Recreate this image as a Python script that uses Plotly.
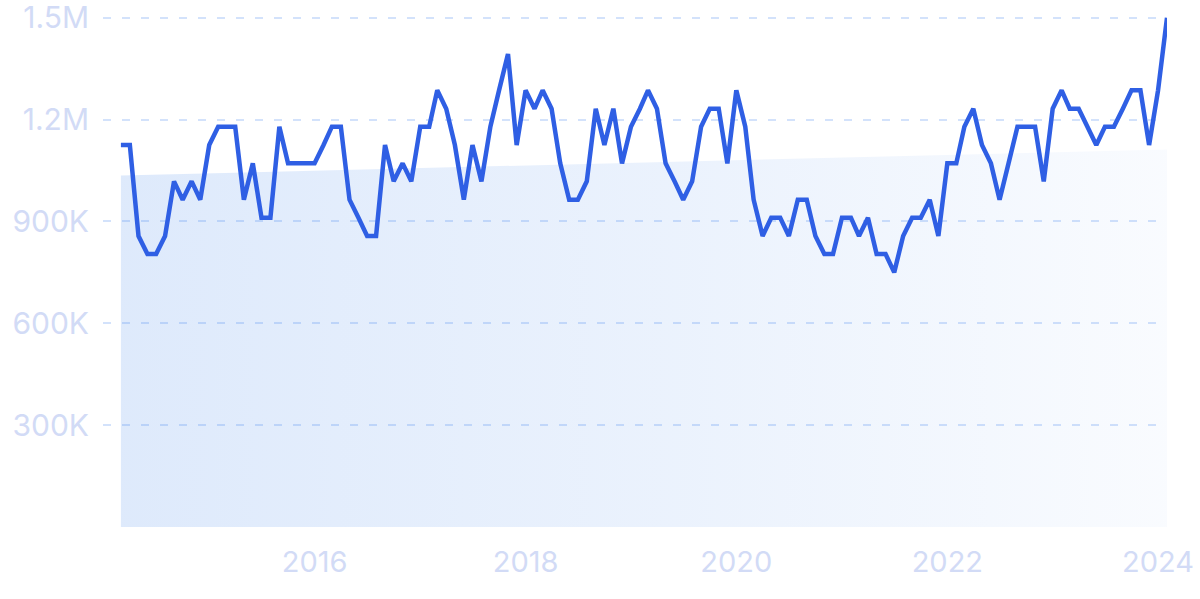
import pandas as pd
import plotly.graph_objects as go

# monthly values (thousands), Mar 2014 .. Feb 2024
MONTHS = pd.date_range("2014-03-01", periods=120, freq="MS")
VALUES_K = [
    1125, 1125, 857, 804, 804, 857, 1018, 964, 1018, 964,
    1125, 1179, 1179, 1179, 964, 1071, 911, 911, 1179, 1071,
    1071, 1071, 1071, 1125, 1179, 1179, 964, 911, 857, 857,
    1125, 1018, 1071, 1018, 1179, 1179, 1286, 1232, 1125, 964,
    1125, 1018, 1179, 1286, 1393, 1125, 1286, 1232, 1286, 1232,
    1071, 964, 964, 1018, 1232, 1125, 1232, 1071, 1179, 1232,
    1286, 1232, 1071, 1018, 964, 1018, 1179, 1232, 1232, 1071,
    1286, 1179, 964, 857, 911, 911, 857, 964, 964, 857,
    804, 804, 911, 911, 857, 911, 804, 804, 750, 857,
    911, 911, 964, 857, 1071, 1071, 1179, 1232, 1125, 1071,
    964, 1071, 1179, 1179, 1179, 1018, 1232, 1286, 1232, 1232,
    1179, 1125, 1179, 1179, 1232, 1286, 1286, 1125, 1286, 1500,
]
TREND_K = [1035, 1112]

Y_TICKS = [300000, 600000, 900000, 1200000, 1500000]
Y_TICK_LABELS = ["300K", "600K", "900K", "1.2M", "1.5M"]
X_TICKS = ["2016-01-01", "2018-01-01", "2020-01-01", "2022-01-01", "2024-01-01"]
X_TICK_LABELS = ["2016", "2018", "2020", "2022", "2024"]

LINE_COLOR = "#2f5fe4"
LABEL_COLOR = "#d2dbf6"
GRID_COLOR = "#d3e2fb"

values = [v * 1000 for v in VALUES_K]
trend = [v * 1000 for v in TREND_K]

fig = go.Figure()

# shaded trend area under the series (translucent so the grid shows through)
fig.add_trace(
    go.Scatter(
        x=[MONTHS[0], MONTHS[-1]],
        y=trend,
        mode="lines",
        line=dict(width=0),
        fill="tozeroy",
        fillgradient=dict(
            type="horizontal",
            colorscale=[
                [0, "rgba(60,130,235,0.17)"],
                [0.55, "rgba(60,130,235,0.10)"],
                [1, "rgba(60,130,235,0.03)"],
            ],
        ),
        hoverinfo="skip",
        showlegend=False,
    )
)

fig.add_trace(
    go.Scatter(
        x=MONTHS,
        y=values,
        mode="lines",
        line=dict(color=LINE_COLOR, width=4.5),
        cliponaxis=False,
        showlegend=False,
    )
)

fig.update_layout(
    width=1200,
    height=599,
    margin=dict(l=103, r=33, t=16, b=72),
    paper_bgcolor="white",
    plot_bgcolor="white",
    font=dict(family="Inter", color=LABEL_COLOR),
)

fig.update_xaxes(
    range=["2013-12-29", "2024-02-01"],
    tickvals=X_TICKS,
    ticktext=X_TICK_LABELS,
    tickfont=dict(size=29),
    showgrid=False,
    showline=False,
    zeroline=False,
    ticks="",
    ticklabelstandoff=15,
    ticklabeloverflow="allow",
    automargin=False,
)

# range a touch above 1.5M so the top gridline is still drawn
fig.update_yaxes(
    range=[0, 1505000],
    tickvals=Y_TICKS,
    ticktext=Y_TICK_LABELS,
    tickfont=dict(size=30),
    showgrid=True,
    gridcolor=GRID_COLOR,
    gridwidth=1.5,
    griddash="8px,11px",
    zeroline=False,
    showline=False,
    ticks="",
    ticklabelstandoff=13,
    ticklabeloverflow="allow",
    automargin=False,
)

# drop the default 8px page margin so the figure fills the window exactly
fig.write_html(
    "out.html",
    config={"displayModeBar": False},
    post_script="document.body.style.margin = '0';",
)
